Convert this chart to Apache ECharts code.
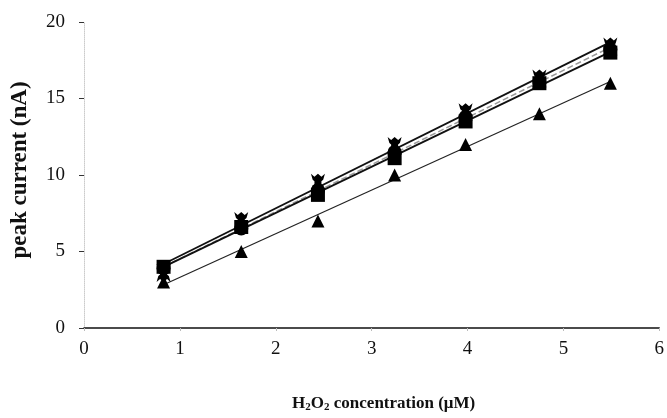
<!DOCTYPE html>
<html>
<head>
<meta charset="utf-8">
<script src="https://cdn.jsdelivr.net/npm/echarts@6/dist/echarts.min.js"></script>
<style>
  html, body { margin: 0; padding: 0; background: #fff; }
  #chart { width: 667px; height: 418px; }
</style>
</head>
<body>
<div id="chart"></div>
<script>
// H2O2 concentrations (μM) at which peak current was measured
const concentration = [0.83, 1.64, 2.44, 3.24, 3.98, 4.75, 5.49];

// Peak current (nA) for each electrode
const seriesSquare = [4.0, 6.6, 8.7, 11.1, 13.5, 16.0, 18.0];
const seriesCircle = [3.9, 6.5, 9.0, 11.5, 13.8, 16.1, 18.2];
const seriesCross = [3.6, 7.0, 9.5, 11.9, 14.1, 16.3, 18.4];
const seriesTriangle = [3.0, 5.0, 7.0, 10.0, 12.0, 14.0, 16.0];

const xTicks = [0, 1, 2, 3, 4, 5, 6];
const yTicks = [0, 5, 10, 15, 20];

const hourglass = 'path://M0,0 L2,2 L4,0 L6,2 L8,0 L7,4 L6,5 L6,7 L7,8 L8,12 L6,10 L4,12 L2,10 L0,12 L1,8 L2,7 L2,5 L1,4 Z';

function pairs(xs, ys) {
  return xs.map((x, i) => [x, ys[i]]);
}

// least-squares straight line through a data set, spanning its x range
function fitLine(xs, ys) {
  const n = xs.length;
  const mx = xs.reduce((a, b) => a + b, 0) / n;
  const my = ys.reduce((a, b) => a + b, 0) / n;
  let sxy = 0, sxx = 0;
  for (let i = 0; i < n; i++) {
    sxy += (xs[i] - mx) * (ys[i] - my);
    sxx += (xs[i] - mx) * (xs[i] - mx);
  }
  const k = sxy / sxx;
  const b = my - k * mx;
  const x0 = xs[0], x1 = xs[n - 1];
  return [[x0, k * x0 + b], [x1, k * x1 + b]];
}

function points(name, ys, symbol, size) {
  return {
    name, type: 'scatter', data: pairs(concentration, ys),
    symbol, symbolSize: size,
    itemStyle: { color: '#000', opacity: 1 }, z: 5
  };
}

function fit(ys, color, width, type) {
  return {
    type: 'line', data: fitLine(concentration, ys), symbol: 'none',
    lineStyle: { color, width, type }, silent: true, z: 3
  };
}

const serif = '"Liberation Serif", "DejaVu Serif", serif';

const chart = echarts.init(document.getElementById('chart'));
chart.setOption({
  animation: false,
  backgroundColor: '#fff',
  grid: { left: 84, right: 5, top: 22, bottom: 90, containLabel: false },
  xAxis: {
    type: 'value', min: xTicks[0], max: xTicks[xTicks.length - 1], interval: 1,
    axisLine: { lineStyle: { color: '#111', width: 1.5 } },
    axisTick: { show: true, length: 3, inside: false, lineStyle: { color: '#bbb' } },
    splitLine: { show: false },
    axisLabel: { color: '#111', fontFamily: serif, fontSize: 19, margin: 12 },
    name: 'H{sub|2}O{sub|2} concentration (μM)',
    nameLocation: 'middle', nameGap: 66,
    nameTextStyle: {
      color: '#111', fontFamily: serif, fontSize: 17, fontWeight: 'bold',
      padding: [0, 0, 0, 24],
      rich: { sub: { fontFamily: serif, fontSize: 11, fontWeight: 'bold', verticalAlign: 'bottom', padding: [8, 0, 0, 0] } }
    }
  },
  yAxis: {
    type: 'value', min: yTicks[0], max: yTicks[yTicks.length - 1], interval: 5,
    axisLine: { show: true, lineStyle: { color: '#ccc', width: 1, type: 'dotted' } },
    axisTick: { show: true, length: 5, lineStyle: { color: '#333' } },
    splitLine: { show: false },
    axisLabel: { color: '#111', fontFamily: serif, fontSize: 19, margin: 19 },
    name: 'peak current (nA)',
    nameLocation: 'middle', nameGap: 52,
    nameTextStyle: { color: '#111', fontFamily: serif, fontSize: 23, fontWeight: 'bold', padding: [0, 0, 0, 10] }
  },
  series: [
    fit(seriesTriangle, '#222', 1.2, 'solid'),
    fit(seriesCircle, '#999', 1.5, 'dashed'),
    fit(seriesSquare, '#111', 1.8, 'solid'),
    fit(seriesCross, '#111', 1.8, 'solid'),
    points('triangle', seriesTriangle, 'triangle', 13),
    points('square', seriesSquare, 'rect', 14),
    points('circle', seriesCircle, 'circle', 14),
    points('cross', seriesCross, hourglass, [14, 18])
  ]
});
</script>
</body>
</html>
